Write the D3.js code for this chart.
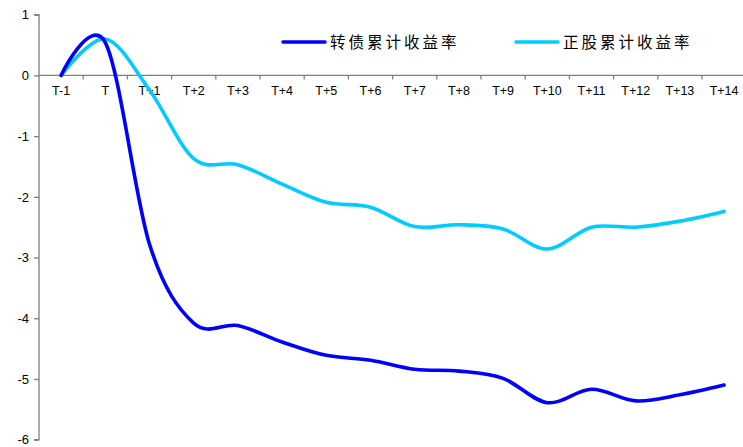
<!DOCTYPE html>
<html>
<head>
<meta charset="utf-8">
<script src="https://cdn.jsdelivr.net/npm/d3@7"></script>
<style>
  html, body { margin: 0; padding: 0; background: #fff; }
  svg { display: block; }
</style>
</head>
<body>
<svg id="chart" width="743" height="447"></svg>
<script>
// Event window: trading days around the announcement
const categories = ["T-1", "T", "T+1", "T+2", "T+3", "T+4", "T+5", "T+6", "T+7",
  "T+8", "T+9", "T+10", "T+11", "T+12", "T+13", "T+14"];

// Cumulative returns (%)
const bondReturns = [0, 0.54, -2.78, -4.08, -4.12, -4.39, -4.61, -4.69, -4.84,
  -4.87, -4.99, -5.39, -5.17, -5.36, -5.26, -5.1];
const stockReturns = [0, 0.6, -0.24, -1.37, -1.47, -1.79, -2.09, -2.17, -2.49,
  -2.46, -2.53, -2.86, -2.5, -2.5, -2.4, -2.24];

const yTicks = [1, 0, -1, -2, -3, -4, -5, -6];

const seriesNames = ["转债累计收益率", "正股累计收益率"];
const seriesColors = ["#0000ff", "#00ccff"];

const svg = d3.select("#chart");

const x = d3.scaleBand()
  .domain(categories)
  .range([39, 39 + 16 * 44.2])
  .paddingInner(0).paddingOuter(0);

const y = d3.scaleLinear()
  .domain([-6, 1])
  .range([439.7, 14.7]);

const axisColor = "#7f7f7f";
const labelFont = "'Liberation Sans', Arial, sans-serif";

// Y axis
const yAxis = svg.append("g")
  .attr("transform", `translate(${x.range()[0]},0)`)
  .call(d3.axisLeft(y).tickValues(yTicks).tickSize(5).tickPadding(5)
    .tickFormat(d => String(d)));
yAxis.select(".domain").attr("stroke", axisColor).attr("stroke-width", 1.3)
  .attr("d", `M-5,${y(1)}H0V${y(-6)}H-5`);
yAxis.selectAll(".tick line").attr("stroke", axisColor).attr("stroke-width", 1.3);
yAxis.selectAll(".tick text")
  .attr("fill", "#000")
  .style("font-family", labelFont)
  .style("font-size", "13px");

// X axis along zero, ticks at category boundaries
const xAxisG = svg.append("g").attr("transform", `translate(0,${y(0)})`);
xAxisG.append("line")
  .attr("x1", x.range()[0]).attr("x2", 743)
  .attr("stroke", axisColor).attr("stroke-width", 1.3);
const boundaries = categories.map(c => x(c) + x.bandwidth());
xAxisG.selectAll("line.tick")
  .data(boundaries)
  .join("line")
  .attr("class", "tick")
  .attr("x1", d => d).attr("x2", d => d)
  .attr("y1", 0).attr("y2", 4)
  .attr("stroke", axisColor).attr("stroke-width", 1.3);
xAxisG.selectAll("text")
  .data(categories)
  .join("text")
  .attr("x", d => x(d) + x.bandwidth() / 2)
  .attr("y", 20)
  .attr("text-anchor", "middle")
  .style("font-family", labelFont)
  .style("font-size", "12.5px")
  .attr("fill", "#000")
  .text(d => d);

// Smoothed lines
const line = d3.line()
  .x((d, i) => x(categories[i]) + x.bandwidth() / 2)
  .y(d => y(d))
  .curve(d3.curveCardinal.tension(0));

[stockReturns, bondReturns].forEach((vals, k) => {
  const idx = k === 0 ? 1 : 0;
  svg.append("path")
    .datum(vals)
    .attr("d", line)
    .attr("fill", "none")
    .attr("stroke", seriesColors[idx])
    .attr("stroke-width", 3.6)
    .attr("stroke-linecap", "round")
    .attr("stroke-linejoin", "round");
});

// Legend
const legendX = [283, 516];
const legend = svg.append("g");
seriesNames.forEach((name, i) => {
  legend.append("line")
    .attr("x1", legendX[i]).attr("x2", legendX[i] + 42)
    .attr("y1", 42).attr("y2", 42)
    .attr("stroke", seriesColors[i])
    .attr("stroke-width", 3.6)
    .attr("stroke-linecap", "round");
  legend.append("text")
    .attr("x", legendX[i] + 47)
    .attr("y", 48)
    .style("font-family", "'Noto Sans CJK SC', sans-serif")
    .style("font-size", "15.5px")
    .style("letter-spacing", "3px")
    .attr("fill", "#000")
    .text(name);
});
</script>
</body>
</html>
